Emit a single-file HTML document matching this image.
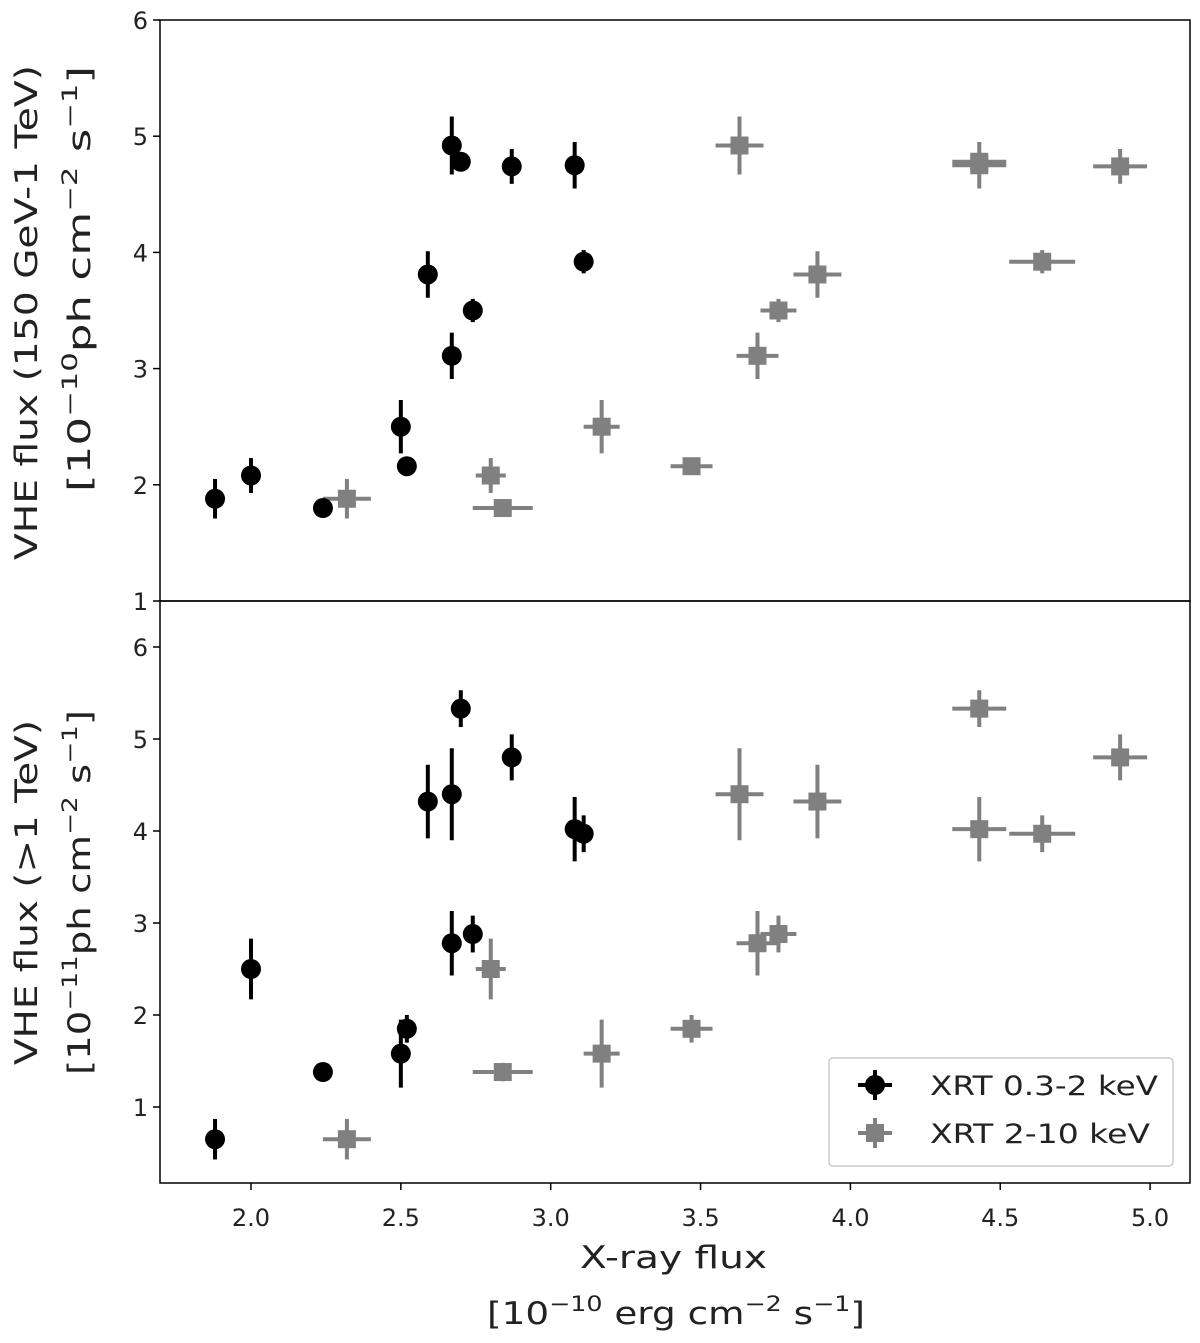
<!DOCTYPE html>
<html><head><meta charset="utf-8"><style>
body{margin:0;background:#fff;}
svg text{font-family:"DejaVu Sans","Liberation Sans",sans-serif;fill:#222;}
</style></head><body>
<svg id="chart" width="1200" height="1338" viewBox="0 0 1200 1338" xmlns="http://www.w3.org/2000/svg">
<g id="layer"></g>
</svg>
<script>
const softX=[1.88,2.00,2.24,2.50,2.52,2.59,2.67,2.67,2.70,2.74,2.87,3.08,3.11];
const softXErr=[0.01,0.01,0.01,0.01,0.01,0.01,0.01,0.01,0.01,0.01,0.01,0.01,0.01];
const hardX=[2.32,2.80,2.84,3.17,3.47,3.89,3.63,3.69,4.43,3.76,4.90,4.43,4.64];
const hardXErr=[0.08,0.05,0.10,0.06,0.07,0.08,0.08,0.07,0.09,0.06,0.09,0.09,0.11];
const vheTop=[1.88,2.08,1.80,2.50,2.16,3.81,4.92,3.11,4.78,3.50,4.74,4.75,3.92];
const vheTopErr=[0.17,0.15,0.07,0.23,0.06,0.20,0.25,0.20,0.08,0.10,0.15,0.20,0.10];
const vheBot=[0.65,2.50,1.38,1.58,1.85,4.32,4.40,2.78,5.33,2.88,4.80,4.02,3.97];
const vheBotErr=[0.22,0.33,0.10,0.37,0.15,0.40,0.50,0.35,0.20,0.20,0.25,0.35,0.20];
const xTicks=[2.0,2.5,3.0,3.5,4.0,4.5,5.0];
const topTicks=[1,2,3,4,5,6];
const botTicks=[1,2,3,4,5,6];

const NS="http://www.w3.org/2000/svg";
const L=document.getElementById('layer');
function mk(t,a,p){const e=document.createElementNS(NS,t);for(const k in a)e.setAttribute(k,a[k]);(p||L).appendChild(e);return e;}
const X0=160,X1=1190;
const xs=v=>251+(v-2)*299.7;
const yTop=v=>601-(v-1)*116.2;
const yBot=v=>1107-(v-1)*92;

function panel(name,top,bottom,ys,ticks,vals,errs){
  const g=mk('g',{});
  
  
  const fr=mk('rect',{x:X0,y:top,width:X1-X0,height:bottom-top,fill:'none',stroke:'#000','stroke-width':1.5},g);
  
  
  ticks.forEach(t=>{
    const y=ys(t);
    mk('line',{x1:X0-7,x2:X0,y1:y,y2:y,stroke:'#000','stroke-width':1.5},g);
    const tx=mk('text',{x:X0-12,y:y+9,'font-size':24,'text-anchor':'end'},g);
    tx.textContent=t;
    
    
  });
  for(let i=0;i<hardX.length;i++){
    const cx=xs(hardX[i]),cy=ys(vals[i]);
    const s=mk('g',{},g);
    
    
    mk('line',{x1:xs(hardX[i]-hardXErr[i]),x2:xs(hardX[i]+hardXErr[i]),y1:cy,y2:cy,stroke:'#808080','stroke-width':4},s);
    mk('line',{x1:cx,x2:cx,y1:ys(vals[i]-errs[i]),y2:ys(vals[i]+errs[i]),stroke:'#808080','stroke-width':4},s);
    mk('rect',{x:cx-9,y:cy-9,width:18,height:18,fill:'#808080'},s);
  }
  for(let i=0;i<softX.length;i++){
    const cx=xs(softX[i]),cy=ys(vals[i]);
    const s=mk('g',{},g);
    
    
    mk('line',{x1:xs(softX[i]-softXErr[i]),x2:xs(softX[i]+softXErr[i]),y1:cy,y2:cy,stroke:'#000','stroke-width':4},s);
    mk('line',{x1:cx,x2:cx,y1:ys(vals[i]-errs[i]),y2:ys(vals[i]+errs[i]),stroke:'#000','stroke-width':4},s);
    mk('circle',{cx:cx,cy:cy,r:10,fill:'#000'},s);
  }
}
panel('top-panel',20,601,yTop,topTicks,vheTop,vheTopErr);
panel('bottom-panel',601,1183,yBot,botTicks,vheBot,vheBotErr);
xTicks.forEach(t=>{
  const x=xs(t);
  mk('line',{x1:x,x2:x,y1:1183,y2:1190,stroke:'#000','stroke-width':1.5});
  const tx=mk('text',{x:x,y:1226,'font-size':24,'text-anchor':'middle'});
  tx.textContent=t.toFixed(1);
  
  
});
</script>
<svg width="1200" height="1338" style="position:absolute;left:0;top:0" xmlns="http://www.w3.org/2000/svg">
<g>
<text x="580" y="1268" font-size="31" textLength="187" lengthAdjust="spacingAndGlyphs" style="font-family:'DejaVu Sans',sans-serif" fill="#222">X-ray flux</text>
<text x="487" y="1324" font-size="31" textLength="378" lengthAdjust="spacingAndGlyphs" style="font-family:'DejaVu Sans',sans-serif" fill="#222">[10<tspan dy="-13" font-size="21">−10</tspan><tspan dy="13"> erg cm</tspan><tspan dy="-13" font-size="21">−2</tspan><tspan dy="13"> s</tspan><tspan dy="-13" font-size="21">−1</tspan><tspan dy="13">]</tspan></text>
</g>
<g transform="rotate(-90)">
<text x="-560" y="37" font-size="31" textLength="495" lengthAdjust="spacingAndGlyphs" style="font-family:'DejaVu Sans',sans-serif" fill="#222">VHE flux (150 GeV-1 TeV)</text>
<text x="-492" y="90" font-size="31" textLength="426" lengthAdjust="spacingAndGlyphs" style="font-family:'DejaVu Sans',sans-serif" fill="#222">[10<tspan dy="-13" font-size="21">−10</tspan><tspan dy="13">ph cm</tspan><tspan dy="-13" font-size="21">−2</tspan><tspan dy="13"> s</tspan><tspan dy="-13" font-size="21">−1</tspan><tspan dy="13">]</tspan></text>
</g>
<g transform="rotate(-90)">
<text x="-1065" y="37" font-size="31" textLength="345" lengthAdjust="spacingAndGlyphs" style="font-family:'DejaVu Sans',sans-serif" fill="#222">VHE flux (&gt;1 TeV)</text>
<text x="-1075" y="90" font-size="31" textLength="365" lengthAdjust="spacingAndGlyphs" style="font-family:'DejaVu Sans',sans-serif" fill="#222">[10<tspan dy="-13" font-size="21">−11</tspan><tspan dy="13">ph cm</tspan><tspan dy="-13" font-size="21">−2</tspan><tspan dy="13"> s</tspan><tspan dy="-13" font-size="21">−1</tspan><tspan dy="13">]</tspan></text>
</g>
<g>
<rect x="829" y="1058" width="344" height="108" rx="4" fill="#fff" stroke="#ccc" stroke-width="1.5"/>
<g>
<line x1="858" x2="892" y1="1085" y2="1085" stroke="#000" stroke-width="4"/>
<line x1="875" x2="875" y1="1070" y2="1100" stroke="#000" stroke-width="4"/>
<circle cx="875" cy="1085" r="10" fill="#000"/>
<text x="930" y="1095" font-size="27" textLength="228" lengthAdjust="spacingAndGlyphs" style="font-family:'DejaVu Sans',sans-serif" fill="#222">XRT 0.3-2 keV</text>
</g>
<g>
<line x1="858" x2="892" y1="1133" y2="1133" stroke="#808080" stroke-width="4"/>
<line x1="875" x2="875" y1="1118" y2="1148" stroke="#808080" stroke-width="4"/>
<rect x="866" y="1124" width="18" height="18" fill="#808080"/>
<text x="930" y="1143" font-size="27" textLength="220" lengthAdjust="spacingAndGlyphs" style="font-family:'DejaVu Sans',sans-serif" fill="#222">XRT 2-10 keV</text>
</g>
</g>
</svg>
</body></html>
